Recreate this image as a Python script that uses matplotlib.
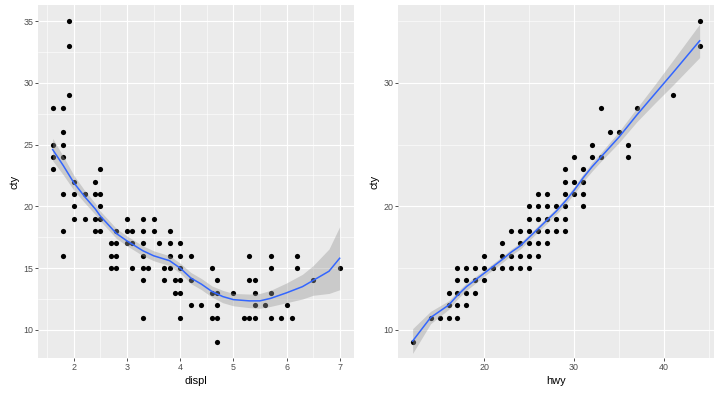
import matplotlib.pyplot as plt
from matplotlib.ticker import MultipleLocator

plt.rcParams["font.family"] = ["Liberation Sans", "DejaVu Sans"]

# 数据: displ vs cty (左图)
displ_pts = {
    1.6: [28, 25, 24, 23],
    1.8: [28, 26, 25, 24, 21, 18, 16],
    1.9: [35, 33, 29],
    2.0: [22, 21, 20, 19],
    2.2: [21, 19],
    2.4: [22, 21, 19, 18],
    2.5: [23, 21, 20, 19, 18],
    2.7: [17, 16, 15],
    2.8: [18, 17, 16, 15],
    3.0: [19, 18, 17],
    3.1: [18, 17, 15],
    3.3: [19, 18, 17, 16, 15, 14, 11],
    3.4: [15],
    3.5: [19, 18],
    3.6: [17],
    3.7: [15, 14],
    3.8: [18, 17, 16, 15],
    3.9: [14, 13],
    4.0: [17, 16, 15, 14, 13, 11],
    4.2: [16, 14, 12],
    4.4: [12],
    4.6: [15, 13, 11],
    4.7: [14, 13, 12, 11, 9],
    5.0: [13],
    5.2: [11],
    5.3: [16, 14, 11],
    5.4: [14, 13, 12, 11],
    5.6: [12],
    5.7: [16, 15, 13, 11],
    5.9: [11],
    6.0: [12],
    6.1: [11],
    6.2: [16, 15],
    6.5: [14],
    7.0: [15],
}
# loess 平滑曲线
displ_fit_x = [1.6, 1.8, 2.0, 2.2, 2.4, 2.5, 2.8, 3.0, 3.3, 3.5, 3.8, 4.0, 4.2, 4.4,
               4.6, 4.8, 5.0, 5.3, 5.5, 5.7, 6.0, 6.3, 6.5, 6.8, 7.0]
displ_fit_y = [24.6, 23.3, 21.9, 20.8, 19.8, 19.2, 17.8, 17.2, 16.4, 16.0, 15.6, 15.0, 14.2, 13.7,
               13.1, 12.7, 12.45, 12.35, 12.35, 12.55, 13.0, 13.5, 14.0, 14.75, 15.8]
displ_fit_se = [0.9, 0.75, 0.6, 0.5, 0.45, 0.4, 0.4, 0.4, 0.4, 0.4, 0.4, 0.4, 0.45, 0.45,
                0.45, 0.5, 0.5, 0.55, 0.6, 0.65, 0.8, 1.0, 1.2, 1.8, 2.55]

# 数据: hwy vs cty (右图)
hwy_pts = {
    12: [9],
    14: [11],
    15: [11],
    16: [11, 12, 13],
    17: [11, 12, 13, 14, 15],
    18: [12, 13, 14, 15],
    19: [13, 14, 15],
    20: [14, 15, 16],
    21: [15],
    22: [15, 16, 17],
    23: [15, 16, 18],
    24: [15, 16, 17, 18],
    25: [15, 16, 17, 18, 19, 20],
    26: [16, 17, 18, 19, 20, 21],
    27: [17, 18, 19, 20, 21],
    28: [18, 19, 20],
    29: [18, 19, 20, 21, 22, 23],
    30: [21, 22, 24],
    31: [20, 21, 22, 23],
    32: [24, 25],
    33: [24, 28],
    34: [26],
    35: [26],
    36: [24, 25],
    37: [28],
    41: [29],
    44: [33, 35],
}
hwy_fit_x = [12, 14, 16, 17, 18, 20, 22, 23, 24, 25, 26, 27, 28, 29, 30, 31, 32, 33,
             35, 37, 39, 41, 44]
hwy_fit_y = [9.1, 11.0, 12.0, 12.8, 13.5, 14.6, 15.7, 16.3, 16.8, 17.5, 18.2, 18.9, 19.6, 20.4,
             21.3, 22.3, 23.2, 24.0, 25.6, 27.4, 29.1, 30.8, 33.4]
hwy_fit_se = [1.0, 0.5, 0.35, 0.3, 0.3, 0.25, 0.25, 0.25, 0.25, 0.25, 0.25, 0.25, 0.25, 0.25,
              0.3, 0.3, 0.35, 0.35, 0.45, 0.55, 0.75, 1.0, 1.35]

panels = [
    ("displ", displ_pts, displ_fit_x, displ_fit_y, displ_fit_se,
     (1.33, 7.27), [2, 3, 4, 5, 6, 7], [10, 15, 20, 25, 30, 35]),
    ("hwy", hwy_pts, hwy_fit_x, hwy_fit_y, hwy_fit_se,
     (10.4, 45.6), [20, 30, 40], [10, 20, 30]),
]

fig = plt.figure(figsize=(7.2, 3.94), dpi=100)
lefts = [38.3 / 720, 398.3 / 720]

for (xlab, pts, fx, fy, fse, xlim, xticks, yticks), left in zip(panels, lefts):
    ax = fig.add_axes([left, 35.7 / 394, 315.7 / 720, 353.3 / 394])
    ax.set_facecolor("#EBEBEB")
    for s in ax.spines.values():
        s.set_visible(False)

    # 散点
    xs = [x for x, yl in pts.items() for _ in yl]
    ys = [y for x, yl in pts.items() for y in yl]
    ax.scatter(xs, ys, s=14, color="black", linewidths=0, zorder=3)

    # 置信带 + 平滑线
    lo = [y - e for y, e in zip(fy, fse)]
    hi = [y + e for y, e in zip(fy, fse)]
    ax.fill_between(fx, lo, hi, color="#999999", alpha=0.4, linewidth=0, zorder=4)
    ax.plot(fx, fy, color="#3366FF", linewidth=1.1, zorder=5)

    ax.set_xlim(*xlim)
    ax.set_ylim(7.7, 36.3)
    ax.set_xticks(xticks)
    ax.set_yticks(yticks)
    ax.xaxis.set_minor_locator(MultipleLocator((xticks[1] - xticks[0]) / 2))
    ax.yaxis.set_minor_locator(MultipleLocator((yticks[1] - yticks[0]) / 2))

    ax.grid(True, which="major", color="white", linewidth=0.8, zorder=0)
    ax.grid(True, which="minor", color="white", linewidth=0.4, zorder=0)
    ax.set_axisbelow(True)
    ax.tick_params(which="major", length=2, width=0.6, color="#333333",
                   labelsize=6.4, labelcolor="#4D4D4D", pad=1.5)
    ax.tick_params(which="minor", length=0)

    ax.set_xlabel(xlab, fontsize=7.9, labelpad=3)
    ax.set_ylabel("cty", fontsize=7.9, labelpad=3)

plt.savefig("out.png", dpi=100)
